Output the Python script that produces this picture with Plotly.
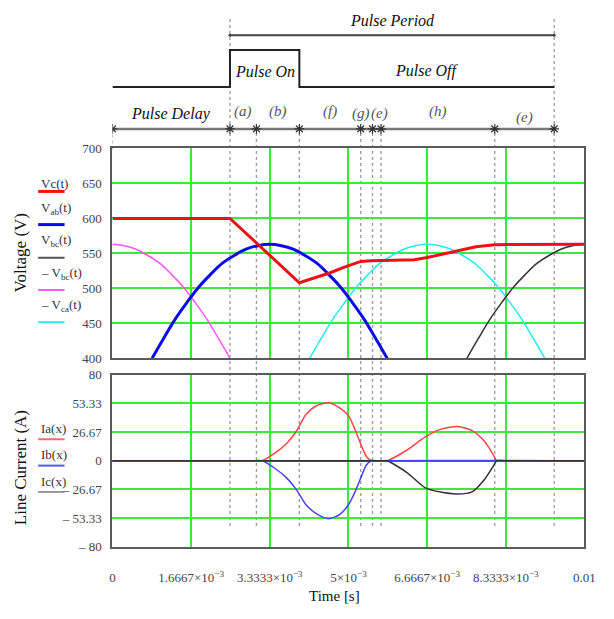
import plotly.graph_objects as go

# ---------------- data (time in ms) ----------------
event_t = [0.0, 2.49, 3.05, 3.96, 5.26, 5.51, 5.69, 8.10, 9.36]
seg_labels = ["Pulse Delay", "(a)", "(b)", "(f)", "(g)", "(e)", "(h)", "(e)"]

pulse_level = [0, 0, 1, 1, 0, 0]

# Vc(t)
vc_t = [0.0, 2.49, 3.96, 4.3, 4.6, 4.9, 5.13, 5.26, 5.5, 6.0, 6.4, 6.67, 7.0, 7.3, 7.7, 8.1, 10.0]
vc_v = [600, 600, 508, 515, 522, 530, 536, 538.5, 539.5, 540, 541, 544, 549, 554, 559.5, 562.5, 563]

sine_v = [400, 428, 456, 480, 502, 520, 536, 547, 556, 561, 563, 561, 556, 547, 536, 520, 502, 480, 456, 428, 400]

vab_t = [0.84, 1.08, 1.33, 1.58, 1.83, 2.08, 2.33, 2.58, 2.83, 3.08, 3.33,
         3.58, 3.83, 4.08, 4.33, 4.58, 4.83, 5.08, 5.33, 5.58, 5.82]
vab_v = sine_v

nvca_t = [4.18, 4.42, 4.67, 4.92, 5.17, 5.42, 5.67, 5.92, 6.17, 6.42, 6.67,
          6.92, 7.17, 7.42, 7.67, 7.92, 8.17, 8.42, 8.67, 8.92, 9.16]
nvca_v = sine_v

nvbc_t = [0.0, 0.25, 0.5, 0.75, 1.0, 1.25, 1.5, 1.75, 2.0, 2.25, 2.49]
nvbc_v = [563, 561, 556, 547, 536, 520, 502, 480, 456, 428, 400]

vbc_t = [7.51, 7.75, 8.0, 8.25, 8.5, 8.75, 9.0, 9.25, 9.5, 9.75, 10.0]
vbc_v = [400, 428, 456, 480, 502, 520, 536, 547, 556, 561, 563]

# line currents
ia_t = [0.0, 3.0, 3.17, 3.44, 3.69, 3.89, 4.10, 4.31, 4.58, 4.82, 5.0, 5.13, 5.27, 5.38, 5.47, 5.6,
        5.75, 5.82, 6.24, 6.62, 6.93, 7.31, 7.62, 7.89, 8.07, 8.14, 8.3, 10.0]
ia_v = [0, 0, 0, 7, 16, 27, 43, 51, 54, 49, 42, 30, 14.5, 4, 0.5, 0,
        0, 0, 10, 22, 29, 31.8, 28, 17.6, 5.5, 0, 0, 0]

ib_t = [0.0, 3.0, 3.17, 3.44, 3.69, 3.89, 4.10, 4.31, 4.58, 4.82, 5.0, 5.13, 5.27, 5.38, 5.47, 5.6, 10.0]
ib_v = [0, 0, 0, -7, -16, -26.5, -41, -49, -54, -50, -41, -30, -15, -4, -0.5, 0, 0]

ic_t = [0.0, 5.6, 5.75, 5.82, 6.24, 6.62, 6.93, 7.31, 7.62, 7.89, 8.07, 8.14, 8.3, 10.0]
ic_v = [0, 0, 0, 0, -11, -25, -29, -31, -29, -17, -5, 0, 0, 0]

x_ticks = [0, 1.6667, 3.3333, 5.0, 6.6667, 8.3333, 10.0]
x_ticktext = ["0", "1.6667×10<sup>−3</sup>", "3.3333×10<sup>−3</sup>", "5×10<sup>−3</sup>",
              "6.6667×10<sup>−3</sup>", "8.3333×10<sup>−3</sup>", "0.01"]
v_ticks = [400, 450, 500, 550, 600, 650, 700]
i_ticks = [-80, -53.33, -26.67, 0, 26.67, 53.33, 80]
i_ticktext = ["– 80", "– 53.33", "– 26.67", "0", "26.67", "53.33", "80"]

# ---------------- layout helpers ----------------
W, H = 614, 619
def px(x):
    return x / W
def py(y):
    return 1 - y / H

SERIF = "Liberation Serif"
GREEN = "#3de83d"
FRAME = "#5a5a5a"
xdom = [px(112), px(595)]

fig = go.Figure()

# top voltage plot
fig.add_trace(go.Scatter(x=nvbc_t, y=nvbc_v, mode="lines", line=dict(color="#ff55ff", width=1.5, shape="spline"),
                         xaxis="x", yaxis="y", hoverinfo="skip"))
fig.add_trace(go.Scatter(x=nvca_t, y=nvca_v, mode="lines", line=dict(color="#22eeee", width=1.5, shape="spline"),
                         xaxis="x", yaxis="y", hoverinfo="skip"))
fig.add_trace(go.Scatter(x=vbc_t, y=vbc_v, mode="lines", line=dict(color="#333333", width=1.5, shape="spline"),
                         xaxis="x", yaxis="y", hoverinfo="skip"))
fig.add_trace(go.Scatter(x=vab_t, y=vab_v, mode="lines", line=dict(color="#0a0aee", width=3, shape="spline"),
                         xaxis="x", yaxis="y", hoverinfo="skip"))
fig.add_trace(go.Scatter(x=vc_t, y=vc_v, mode="lines", line=dict(color="#ee1111", width=3),
                         xaxis="x", yaxis="y", hoverinfo="skip"))

# bottom current plot (Ic drawn last, so it sits on top)
fig.add_trace(go.Scatter(x=ia_t, y=ia_v, mode="lines", line=dict(color="#ff4444", width=1.5, shape="spline", smoothing=0.7),
                         xaxis="x2", yaxis="y2", hoverinfo="skip"))
fig.add_trace(go.Scatter(x=ib_t, y=ib_v, mode="lines", line=dict(color="#4444ff", width=1.5, shape="spline", smoothing=0.7),
                         xaxis="x2", yaxis="y2", hoverinfo="skip"))
fig.add_trace(go.Scatter(x=ic_t, y=ic_v, mode="lines", line=dict(color="#333333", width=1.5, shape="spline", smoothing=0.7),
                         xaxis="x2", yaxis="y2", hoverinfo="skip"))

# timing diagram (x3/y3)
pulse_x = [event_t[0], event_t[1], event_t[1], event_t[3], event_t[3], event_t[-1]]
fig.add_trace(go.Scatter(x=pulse_x, y=pulse_level, mode="lines", line=dict(color="#222222", width=2),
                         xaxis="x3", yaxis="y3", hoverinfo="skip"))
PERIOD_Y = 1.395
ROW_Y = -1.13
fig.add_trace(go.Scatter(x=[event_t[1], event_t[-1]], y=[PERIOD_Y, PERIOD_Y], mode="lines+markers",
                         line=dict(color="#444444", width=2), marker=dict(size=3, color="#444444"),
                         xaxis="x3", yaxis="y3", hoverinfo="skip"))
fig.add_trace(go.Scatter(x=[event_t[0], event_t[-1]], y=[ROW_Y, ROW_Y], mode="lines",
                         line=dict(color="#777777", width=2.5), xaxis="x3", yaxis="y3", hoverinfo="skip"))
fig.add_trace(go.Scatter(x=event_t, y=[ROW_Y] * len(event_t), mode="markers",
                         marker=dict(symbol="asterisk-open", size=8, color="#333333", line=dict(width=1.2, color="#333333")),
                         xaxis="x3", yaxis="y3", hoverinfo="skip"))

# dotted event lines
for i, t in enumerate(event_t):
    if i == 0:
        top = 120
    elif i == 1 or i == len(event_t) - 1:
        top = 12
    else:
        top = 126
    bottom = 146 if i == 0 else 532
    fig.add_shape(type="line", xref="x", yref="paper", x0=t, x1=t, y0=py(bottom), y1=py(top),
                  line=dict(color="#9a9a9a", width=1.3, dash="dot"), layer="below")

annotations = []
def ann(**kw):
    d = dict(showarrow=False, xanchor="center", yanchor="middle")
    d.update(kw)
    annotations.append(d)

# segment labels
label_style = {0: (110, 16, "#111111", 0), 4: (109, 15, "#555555", -6), 5: (109, 15, "#555555", 3),
               7: (113, 15, "#555555", 0)}
for i, lab in enumerate(seg_labels):
    mid = (event_t[i] + event_t[i + 1]) / 2
    yy, size, col, xs = label_style.get(i, (107, 15, "#555555", 0))
    ann(x=mid, y=py(yy), xref="x3", yref="paper", text="<i>%s</i>" % lab,
        font=dict(family=SERIF, size=size, color=col), xshift=xs)

ann(x=(event_t[1] + event_t[-1]) / 2, y=py(14), xref="x3", yref="paper",
    text="<i>Pulse Period</i>", font=dict(family=SERIF, size=16, color="#111"))
ann(x=(event_t[1] + event_t[3]) / 2, y=py(66), xref="x3", yref="paper",
    text="<i>Pulse On</i>", font=dict(family=SERIF, size=16, color="#111"))
ann(x=(event_t[3] + event_t[-1]) / 2, y=py(66), xref="x3", yref="paper",
    text="<i>Pulse Off</i>", font=dict(family=SERIF, size=16, color="#111"))

# axis titles
ann(x=px(18), y=py(252), xref="paper", yref="paper", text="Voltage (V)", textangle=-90,
    font=dict(family=SERIF, size=17, color="#111"))
ann(x=px(18), y=py(472), xref="paper", yref="paper", text="Line Current (A)", textangle=-90,
    font=dict(family=SERIF, size=17, color="#111"))
ann(x=px(339), y=py(604), xref="paper", yref="paper", text="Time [s]",
    font=dict(family=SERIF, size=15, color="#111"))

# legends (Mathcad style: name above a line sample)
legend_top = [("Vc(t)", "#ee1111", 181, 189, 3),
              ("V<sub>ab</sub>(t)", "#0a0aee", 206, 223, 3),
              ("V<sub>bc</sub>(t)", "#555555", 239, 257, 2),
              ("– V<sub>bc</sub>(t)", "#ff55ff", 273, 290, 2),
              ("– V<sub>ca</sub>(t)", "#22eeee", 306, 323, 2)]
legend_bot = [("Ia(x)", "#ff6666", 432, 443, 2),
              ("Ib(x)", "#5555ff", 459, 470, 2),
              ("Ic(x)", "#777777", 486, 497, 1.5)]
for txt, col, ty, ly, lw in legend_top + legend_bot:
    ann(x=px(37), y=py(ty), xref="paper", yref="paper", text=txt, xanchor="left",
        font=dict(family=SERIF, size=13, color="#333"))
    fig.add_shape(type="line", xref="paper", yref="paper", x0=px(36), x1=px(63), y0=py(ly), y1=py(ly),
                  line=dict(color=col, width=lw))

axis_common = dict(showline=True, mirror=True, linecolor=FRAME, linewidth=2, gridcolor=GREEN, gridwidth=1.5,
                   zeroline=False, ticks="", tickfont=dict(family=SERIF, size=13, color="#444"))

fig.update_layout(
    width=W, height=H, margin=dict(l=0, r=0, t=0, b=0),
    paper_bgcolor="white", plot_bgcolor="white", showlegend=False,
    xaxis=dict(domain=xdom, range=[0, 10], anchor="y", tickvals=x_ticks[1:-1], showticklabels=False, **axis_common),
    yaxis=dict(domain=[py(360), py(145)], range=[400, 700], anchor="x", tickvals=v_ticks,
               ticktext=[str(v) for v in v_ticks], ticklabelstandoff=6, **axis_common),
    xaxis2=dict(domain=xdom, range=[0, 10], anchor="y2", tickvals=x_ticks, ticktext=x_ticktext,
                ticklabelstandoff=18,
                **{**axis_common, "tickfont": dict(family=SERIF, size=13, color="#444")}),
    yaxis2=dict(domain=[py(553), py(377)], range=[-80, 80], anchor="x2", tickvals=i_ticks, ticktext=i_ticktext,
                ticklabelstandoff=6, **{**axis_common, "zeroline": True, "zerolinecolor": "#666", "zerolinewidth": 1.5}),
    xaxis3=dict(domain=xdom, range=[0, 10], anchor="y3", visible=False),
    yaxis3=dict(domain=[py(135), py(5)], range=[-1.395, 2.026], anchor="x3", visible=False),
    annotations=annotations,
)

fig.write_html("out.html")
